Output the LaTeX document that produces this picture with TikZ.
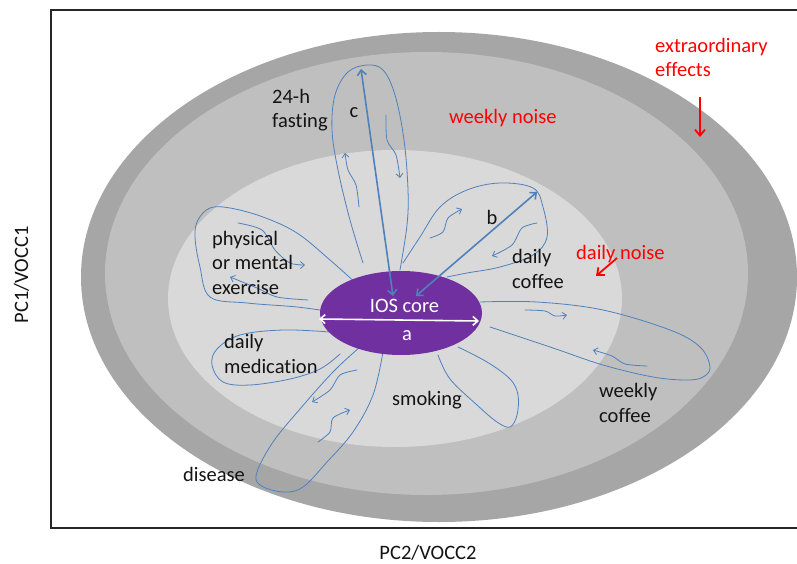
\documentclass[tikz,border=0pt]{standalone}
\usepackage{fontspec}
\setmainfont{Carlito}[Ligatures={NoCommon}]
\usetikzlibrary{arrows.meta,shapes.geometric}
\definecolor{outerg}{RGB}{166,166,166}
\definecolor{midg}{RGB}{191,191,191}
\definecolor{innerg}{RGB}{217,217,217}
\definecolor{iospurple}{RGB}{112,48,160}
\definecolor{petalblue}{RGB}{79,129,189}
\definecolor{txtblack}{RGB}{20,20,20}
\begin{document}
\begin{tikzpicture}[x=1pt,y=-1pt,
  lbl/.style={font=\fontsize{20.5}{24.5}\selectfont, inner sep=0pt, align=left, text=txtblack},
  redlbl/.style={lbl, text=red},
  petal/.style={draw=petalblue, line width=0.8pt, line cap=round, line join=round},
  flow/.style={petal, -{Straight Barb[length=4pt,width=7pt]}},
  bigarrow/.style={draw=petalblue, line width=1.6pt, {Straight Barb[length=5pt,width=9pt]}-{Straight Barb[length=5pt,width=9pt]}},
  redarrow/.style={draw=red, line width=1.8pt, -{Straight Barb[length=6pt,width=10pt]}}]
\useasboundingbox (0,0) rectangle (797,564);
\fill[white] (0,0) rectangle (797,564);
% zones
\fill[outerg] (439,277) ellipse [x radius=358pt, y radius=245pt];
\fill[midg] (426.5,273.5) ellipse [x radius=321.5pt, y radius=221.5pt];
\fill[innerg] (395,298.5) ellipse [x radius=227pt, y radius=148.5pt];
% frame
\draw[line width=1.3pt, draw=black!85] (797,10) -- (51,10) -- (51,528) -- (797,528);
% petals
\draw[petal] plot[smooth, tension=0.6] coordinates {(363,263) (350,220) (338,170) (332,130) (335,95) (348,72) (367,65) (383,70) (395,95) (404,140) (408,190) (407,225) (400,270)};
\draw[flow] plot[smooth] coordinates {(359,207) (356,185) (348,170) (345,153)};
\draw[flow] plot[smooth] coordinates {(386,115) (387,140) (396,155) (400,178)};
\draw[petal] plot[smooth, tension=0.6] coordinates {(403,263) (420,237) (440,207) (467,190) (500,183) (533,188) (543,207) (547,237) (533,255) (500,267) (467,273) (447,277)};
\draw[flow] plot[smooth] coordinates {(430,238) (443,232) (448,218) (462,209)};
\draw[flow] plot[smooth] coordinates {(537,223) (522,228) (512,245) (492,256)};
\draw[petal] plot[smooth, tension=0.6] coordinates {(358,285) (330,260) (297,233) (263,217) (230,208) (210,208) (198,220) (195,237) (200,267) (210,297) (247,303) (297,307) (333,312)};
\draw[flow] plot[smooth] coordinates {(238,223) (262,230) (275,250) (290,263) (305,265)};
\draw[flow] plot[smooth] coordinates {(308,300) (277,297) (257,288) (230,277)};
\draw[petal] plot[smooth, tension=0.6] coordinates {(330,332) (283,330) (240,335) (217,349) (212,365) (223,382) (250,385) (290,379) (320,369) (340,354)};
\draw[petal] plot[smooth, tension=0.6] coordinates {(360,347) (333,372) (300,409) (273,442) (257,472) (260,485) (283,492) (303,487) (327,462) (353,432) (373,395) (383,352)};
\draw[flow] plot[smooth] coordinates {(357,370) (340,375) (330,390) (312,402)};
\draw[flow] plot[smooth] coordinates {(318,442) (330,432) (333,418) (350,410)};
\draw[petal] plot[smooth, tension=0.6] coordinates {(438,355) (450,379) (477,405) (497,422) (510,427) (517,415) (518,395) (510,379) (487,362) (458,347)};
\draw[petal] plot[smooth, tension=0.6] coordinates {(480,302) (537,302) (603,310) (670,330) (700,347) (710,367) (703,377) (687,380) (653,377) (603,365) (553,348) (490,327)};
\draw[flow] plot[smooth] coordinates {(525,310) (545,311) (555,316) (567,315)};
\draw[flow] plot[smooth] coordinates {(647,366) (625,364) (612,356) (593,350)};
% core
\node[ellipse, fill=iospurple, minimum width=162pt, minimum height=84pt, inner sep=0pt] (core) at (401,313) {};
\node[lbl, text=white, anchor=base] (ioslbl) at (404.5,312) {IOS core};
\node[lbl, text=white, anchor=base] (albl) at (407,340) {a};
\coordinate (aL) at (319,319);
\coordinate (aR) at (479,321);
\draw[draw=white, line width=1.6pt, {Straight Barb[length=5pt,width=9pt]}-{Straight Barb[length=5pt,width=9pt]}] (aL) -- (aR);
% radius arrows
\coordinate (cbot) at (393,296);
\coordinate (ctop) at (361,69);
\draw[bigarrow] (cbot) -- (ctop);
\coordinate (bbot) at (416,296);
\coordinate (btop) at (537,192);
\draw[bigarrow] (bbot) -- (btop);
% labels (base = baseline of last line)
\node[lbl, anchor=base west] (fast) at (272,128) {24-h\\fasting};
\node[lbl, anchor=base] (clbl) at (354,118) {c};
\node[lbl, anchor=base] (blbl) at (492,224) {b};
\node[redlbl, anchor=base west] (wnoise) at (449,124) {weekly noise};
\node[redlbl, anchor=base west] (extra) at (655,77) {extraordinary\\effects};
\node[redlbl, anchor=base west] (dnoise) at (576,259) {daily noise};
\node[lbl, anchor=base west] (exer) at (212,294) {physical\\or mental\\exercise};
\node[lbl, anchor=base west] (dcof) at (512,288) {daily\\coffee};
\node[lbl, anchor=base west] (med) at (224,373) {daily\\medication};
\node[lbl, anchor=base west] (smok) at (392,405) {smoking};
\node[lbl, anchor=base west] (wcof) at (599,422) {weekly\\coffee};
\node[lbl, anchor=base west] (dis) at (183,481) {disease};
\node[lbl, anchor=base] (xax) at (428,559) {PC2/VOCC2};
\node[lbl, anchor=base, rotate=90] (yax) at (28,275) {PC1/VOCC1};
% red arrows
\coordinate (e1) at (700,97);
\coordinate (e2) at (700,137);
\draw[redarrow] (e1) -- (e2);
\coordinate (d1) at (617,258);
\coordinate (d2) at (596,276);
\draw[redarrow] (d1) -- (d2);
\end{tikzpicture}
\end{document}
